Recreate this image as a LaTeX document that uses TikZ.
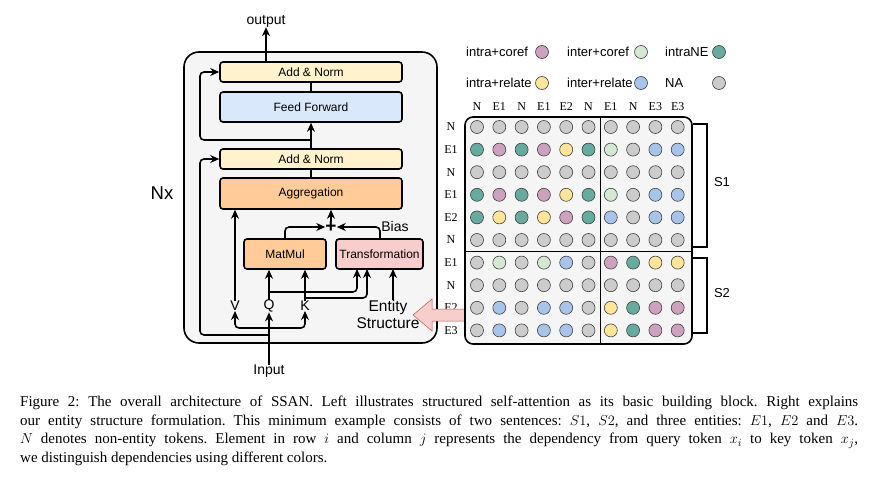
\documentclass[tikz,border=0pt]{standalone}
\usepackage{fontspec}
\setmainfont{Liberation Serif}
\setsansfont{Liberation Sans}
\usetikzlibrary{arrows.meta,calc}
\definecolor{cG}{HTML}{CCCCCC}
\definecolor{cT}{HTML}{67AB9F}
\definecolor{cP}{HTML}{CDA2BE}
\definecolor{cY}{HTML}{FFE599}
\definecolor{cB}{HTML}{A9C4EB}
\definecolor{cL}{HTML}{D5E8D4}
\definecolor{anfill}{HTML}{FFF2CC}
\definecolor{fffill}{HTML}{DAE8FC}
\definecolor{orfill}{HTML}{FFCC99}
\definecolor{pkfill}{HTML}{F8CECC}
\definecolor{pkline}{HTML}{B85450}
\definecolor{bgfill}{HTML}{F5F5F5}
\begin{document}
\begin{tikzpicture}[x=1pt,y=-1pt,
  blk/.style={draw=black, line width=1.6pt, rounded corners=3pt, inner sep=0pt,
    font=\sffamily\fontsize{12}{14}\selectfont},
  ln/.style={line width=1.6pt, rounded corners=4pt},
  arr/.style={line width=1.6pt, rounded corners=4pt, -{Stealth[length=9pt,width=8pt]}},
  lbl/.style={inner sep=0pt, font=\sffamily\fontsize{14}{16}\selectfont},
  lgd/.style={inner sep=0pt, anchor=west, font=\sffamily\fontsize{13}{15}\selectfont},
  dot/.style={circle, draw=black!75, line width=0.6pt, minimum size=13pt, inner sep=0pt},
  tok/.style={inner sep=0pt, font=\fontsize{12}{13}\selectfont},
]
\useasboundingbox (0,0) rectangle (878,495);

% ---------- left block ----------
\node[draw=black, line width=1.6pt, rounded corners=15pt, fill=bgfill,
  minimum width=253pt, minimum height=291pt, inner sep=0pt] (outer) at (310.5,197.5) {};

\node[blk, fill=anfill, minimum width=182pt, minimum height=20pt] (an1) at (311,72) {Add \& Norm};
\node[blk, fill=fffill, minimum width=182pt, minimum height=30pt] (ff) at (311,107) {Feed Forward};
\node[blk, fill=anfill, minimum width=182pt, minimum height=20pt] (an2) at (311,159) {Add \& Norm};
\node[blk, fill=orfill, minimum width=182pt, minimum height=31pt] (agg) at (311,193.5) {Aggregation};
\node[blk, fill=orfill, minimum width=82pt, minimum height=30pt] (mm) at (285,254) {MatMul};
\node[blk, fill=pkfill, minimum width=87pt, minimum height=30pt] (tr) at (379.5,254) {Transformation};

\node[lbl] (out) at (266,21) {output};
\node[lbl] (inp) at (269,371) {Input};
\node[lbl] (V) at (235,306) {V};
\node[lbl] (Q) at (269,306) {Q};
\node[lbl] (K) at (305,306) {K};
\node[lbl, align=center, font=\sffamily\fontsize{15.5}{17}\selectfont] (ent) at (388,314.5) {Entity\\Structure};
\node[lbl] (bias) at (395,226) {Bias};
\node[inner sep=0pt, font=\sffamily\bfseries\fontsize{19}{19}\selectfont] (plus) at (331,227) {+};
\node[inner sep=0pt, font=\sffamily\fontsize{18.5}{20}\selectfont] (nx) at (162,193) {Nx};

\coordinate (r1) at (311,140);
\coordinate (r2) at (269,335);
\coordinate (qb) at (269,292);
\coordinate (kb) at (305,298);
\coordinate (ib) at (269,328);

\draw[arr] (an1.north -| out) -- (out.south);
\draw[ln] (an1.south) -- (ff.north);
\draw[arr] (an2.north) -- (ff.south);
\draw[arr] (r1) -- (200,140) -- (200,72) -- (an1.west);
\draw[ln] (agg.north) -- (an2.south);
\draw[arr] (r2) -- (200,335) -- (200,159) -- (an2.west);

\draw[arr] (V.north) -- (V.north |- agg.south);
\draw[arr] (Q.north) -- (Q.north |- mm.south);
\draw[arr] (K.north) -- (K.north |- mm.south);
\draw[arr] (qb) -- (357,292) -- (357,269);
\draw[arr] (kb) -- (367,298) -- (367,269);
\draw[arr] (ent.north -| 393,0) -- (393,269);

\draw[arr] (285,239) -- (285,227) -- (plus.west);
\draw[arr] (380,239) -- (380,227) -- (plus.east);
\draw[arr] (plus.north) -- (plus.north |- agg.south);

\draw[arr] (inp.north) -- (Q.south);
\draw[arr] (ib) -- (235,328) -- (V.south);
\draw[arr] (ib) -- (305,328) -- (K.south);

% ---------- legend ----------
\node[lgd] (l1) at (466,52) {intra+coref};
\node[dot, fill=cP] (d1) at (542,52) {};
\node[lgd] (l2) at (567,52) {inter+coref};
\node[dot, fill=cL] (d2) at (641,52) {};
\node[lgd] (l3) at (665,52) {intraNE};
\node[dot, fill=cT] (d3) at (719,52) {};
\node[lgd] (l4) at (466,83) {intra+relate};
\node[dot, fill=cY] (d4) at (542,83) {};
\node[lgd] (l5) at (567,83) {inter+relate};
\node[dot, fill=cB] (d5) at (641,83) {};
\node[lgd] (l6) at (665,83) {NA};
\node[dot, fill=cG] (d6) at (719,83) {};

% ---------- token labels ----------
\foreach \t [count=\j from 0] in {N,E1,N,E1,E2,N,E1,N,E3,E3}
  \node[tok] (c\j) at (477+22.3*\j,107) {\t};
\foreach \t [count=\i from 0] in {N,E1,N,E1,E2,N,E1,N,E2,E3}
  \node[tok] (rw\i) at (451,127+22.6*\i) {\t};

% ---------- pink arrow ----------
\draw[draw=pkline, line width=0.5pt, fill=pkfill]
  (413,315) -- (432,299) -- (432,309) -- (467,309) -- (467,321) -- (432,321) -- (432,331) -- cycle;

% ---------- matrix ----------
\node[draw=black, line width=1.6pt, rounded corners=8pt, fill=bgfill,
  minimum width=227pt, minimum height=227pt, inner sep=0pt] (mat) at (578.5,230.5) {};
\draw[line width=0.8pt] (600,117) -- (600,344);
\draw[line width=0.8pt] (465,251.5) -- (692,251.5);

\foreach \row [count=\i from 0] in {
  {G,G,G,G,G,G,G,G,G,G},
  {T,P,T,P,Y,T,L,G,B,B},
  {G,G,G,G,G,G,G,G,G,G},
  {T,P,T,P,Y,T,L,G,B,B},
  {T,Y,T,Y,P,T,B,G,B,B},
  {G,G,G,G,G,G,G,G,G,G},
  {G,L,G,L,B,G,P,T,Y,Y},
  {G,G,G,G,G,G,G,G,G,G},
  {G,B,G,B,B,G,Y,T,P,P},
  {G,B,G,B,B,G,Y,T,P,P}}
{
  \foreach \c [count=\j from 0] in \row
    \node[dot, fill=c\c] (m\i-\j) at (477+22.3*\j,127+22.6*\i) {};
}

% ---------- brackets ----------
\draw[line width=1.8pt] (693,124) -- (707,124) -- (707,247) -- (693,247);
\draw[line width=1.8pt] (693,258) -- (707,258) -- (707,333) -- (693,333);
\node[inner sep=0pt, font=\sffamily\fontsize{13}{15}\selectfont] (s1) at (722,182) {S1};
\node[inner sep=0pt, font=\sffamily\fontsize{13}{15}\selectfont] (s2) at (722,293) {S2};

% ---------- caption ----------
\node[anchor=north west, inner sep=0pt, text width=838pt, align=justify,
  font=\frenchspacing\fontsize{15}{18.5}\selectfont] (cap) at (20,396)
{Figure 2: The overall architecture of SSAN. Left illustrates structured self-attention as its basic building block. Right explains\linebreak
our entity structure formulation. This minimum example consists of two sentences: $S1$, $S2$, and three entities: $E1$, $E2$ and $E3$.\linebreak
$N$ denotes non-entity tokens. Element in row $i$ and column $j$ represents the dependency from query token $x_i$ to key token $x_j$,\linebreak
we distinguish dependencies using different colors.};
\end{tikzpicture}
\end{document}
